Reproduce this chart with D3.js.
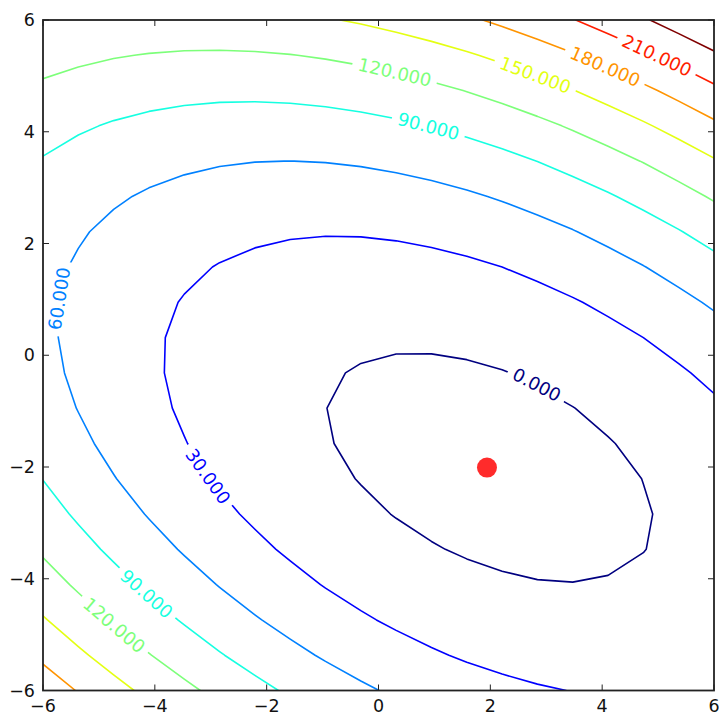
<!DOCTYPE html>
<html>
<head>
<meta charset="utf-8">
<script src="https://cdn.jsdelivr.net/npm/d3@7"></script>
<style>
  html, body { margin: 0; padding: 0; background: #fff; }
  svg { display: block; }
</style>
</head>
<body>
<svg id="chart" width="719" height="717"></svg>
<script>
// Quadratic form f(p) = 1/2 pᵀ A p − bᵀ p, sampled on a 20 × 20 grid over [-6, 6]²
const matrixA = [[3, 2], [2, 6]];
const vectorB = [2, -8];
const gridCount = 20;
const domainX = [-6, 6];
const domainY = [-6, 6];

// Contour levels and tick values
const levels = [0, 30, 60, 90, 120, 150, 180, 210, 240];
const xTicks = [-6, -4, -2, 0, 2, 4, 6];
const yTicks = [-6, -4, -2, 0, 2, 4, 6];

// Marked point (current estimate)
const markerX = [1.94];
const markerY = [-2.01];

// Inline contour labels: level and a point near where it sits
const labelLevels = [0, 30, 60, 90, 90, 120, 120, 150, 180, 210];
const labelNearX  = [2.83, -3.01, -5.82, 0.89, -4.12, 0.30, -4.75, 2.82, 4.09, 4.98];
const labelNearY  = [-0.53, -2.14, 1.03, 4.08, -4.24, 5.10, -4.86, 5.05, 5.25, 5.37];

// ---------------------------------------------------------------------------
const f = (x, y) =>
  0.5 * (matrixA[0][0] * x * x + (matrixA[0][1] + matrixA[1][0]) * x * y + matrixA[1][1] * y * y)
  - (vectorB[0] * x + vectorB[1] * y);
const grad = (x, y) => [
  matrixA[0][0] * x + 0.5 * (matrixA[0][1] + matrixA[1][0]) * y - vectorB[0],
  0.5 * (matrixA[0][1] + matrixA[1][0]) * x + matrixA[1][1] * y - vectorB[1]
];

// jet colormap (256-entry lookup, as matplotlib)
const jetSeg = {
  r: [[0, 0], [0.35, 0], [0.66, 1], [0.89, 1], [1, 0.5]],
  g: [[0, 0], [0.125, 0], [0.375, 1], [0.64, 1], [0.91, 0], [1, 0]],
  b: [[0, 0.5], [0.11, 1], [0.34, 1], [0.65, 0], [1, 0]]
};
function segInterp(seg, t) {
  for (let i = 1; i < seg.length; i++) {
    if (t <= seg[i][0]) {
      const [x0, y0] = seg[i - 1], [x1, y1] = seg[i];
      return y0 + (y1 - y0) * (t - x0) / (x1 - x0);
    }
  }
  return seg[seg.length - 1][1];
}
function jet(t) {
  const idx = Math.min(255, Math.max(0, Math.floor(t * 256)));
  const u = idx / 255;
  return d3.rgb(
    Math.round(255 * segInterp(jetSeg.r, u)),
    Math.round(255 * segInterp(jetSeg.g, u)),
    Math.round(255 * segInterp(jetSeg.b, u))
  ).formatHex();
}
const levelColor = d3.scaleLinear().domain(d3.extent(levels)).range([0, 1]);
const colorOf = lev => jet(levelColor(lev));

// Layout
const W = 719, H = 717;
const plot = { left: 43, right: 714, top: 20, bottom: 690.5 };
const x = d3.scaleLinear().domain(domainX).range([plot.left, plot.right]);
const y = d3.scaleLinear().domain(domainY).range([plot.bottom, plot.top]);

const svg = d3.select("#chart");
const defs = svg.append("defs");
defs.append("clipPath").attr("id", "plotClip")
  .append("rect")
  .attr("x", plot.left).attr("y", plot.top)
  .attr("width", plot.right - plot.left).attr("height", plot.bottom - plot.top);

// Sample grid
const xs = d3.range(gridCount).map(i => domainX[0] + i * (domainX[1] - domainX[0]) / (gridCount - 1));
const ys = d3.range(gridCount).map(j => domainY[0] + j * (domainY[1] - domainY[0]) / (gridCount - 1));
const values = [];
for (let j = 0; j < gridCount; j++) for (let i = 0; i < gridCount; i++) values.push(f(xs[i], ys[j]));

const stepX = (domainX[1] - domainX[0]) / (gridCount - 1);
const stepY = (domainY[1] - domainY[0]) / (gridCount - 1);
const gridToPx = d3.geoTransform({
  point(cx, cy) {
    this.stream.point(x(domainX[0] + (cx - 0.5) * stepX), y(domainY[0] + (cy - 0.5) * stepY));
  }
});
const path = d3.geoPath(gridToPx);
const contours = d3.contours().size([gridCount, gridCount]).thresholds(levels)(values);

// Label placement: snap to the level set, orient along the curve
const labelFont = 18;
const labels = labelLevels.map((lev, k) => {
  let px = labelNearX[k], py = labelNearY[k];
  for (let it = 0; it < 8; it++) {
    const g = grad(px, py), r = f(px, py) - lev, n2 = g[0] * g[0] + g[1] * g[1];
    px -= r * g[0] / n2; py -= r * g[1] / n2;
  }
  const g = grad(px, py);
  const kx = x(1) - x(0), ky = y(0) - y(1);
  let ang = Math.atan2(-g[0] * ky, -g[1] * kx) * 180 / Math.PI;
  if (ang > 90) ang -= 180;
  if (ang <= -90) ang += 180;
  return { lev, sx: x(px), sy: y(py), ang, text: lev.toFixed(3) };
});

// Text layer first (to measure), masks afterwards
const labelLayer = svg.append("g").attr("class", "contour-labels")
  .attr("font-family", "DejaVu Sans, sans-serif")
  .attr("font-size", labelFont);
const labelNodes = labelLayer.selectAll("text").data(labels).join("text")
  .attr("transform", d => `translate(${d.sx},${d.sy}) rotate(${d.ang})`)
  .attr("text-anchor", "middle")
  .attr("dominant-baseline", "central")
  .attr("fill", d => colorOf(d.lev))
  .text(d => d.text);
labelNodes.each(function (d) { d.w = this.getComputedTextLength(); });

levels.forEach((lev, i) => {
  const m = defs.append("mask").attr("id", "gap" + i)
    .attr("maskUnits", "userSpaceOnUse")
    .attr("x", 0).attr("y", 0).attr("width", W).attr("height", H);
  m.append("rect").attr("x", 0).attr("y", 0).attr("width", W).attr("height", H).attr("fill", "white");
  labels.filter(d => d.lev === lev).forEach(d => {
    m.append("rect")
      .attr("transform", `translate(${d.sx},${d.sy}) rotate(${d.ang})`)
      .attr("x", -d.w / 2 - 6).attr("y", -labelFont * 0.6)
      .attr("width", d.w + 12).attr("height", labelFont * 1.2)
      .attr("fill", "black");
  });
});

const lineLayer = svg.insert("g", ".contour-labels").attr("clip-path", "url(#plotClip)");
lineLayer.selectAll("g").data(contours).join("g")
  .attr("mask", (d, i) => `url(#gap${i})`)
  .append("path")
  .attr("d", path)
  .attr("fill", "none")
  .attr("stroke", d => colorOf(d.value))
  .attr("stroke-width", 1.6)
  .attr("stroke-linejoin", "round");

// Marked point
svg.append("g").selectAll("circle").data(markerX).join("circle")
  .attr("cx", (d, i) => x(markerX[i]))
  .attr("cy", (d, i) => y(markerY[i]))
  .attr("r", 10)
  .attr("fill", "#ff2b2b");

// Frame and inward ticks on all four sides
const tickLen = 6;
const axes = svg.append("g").attr("stroke", "#222").attr("stroke-width", 1);
xTicks.forEach(t => {
  axes.append("line").attr("x1", x(t)).attr("x2", x(t)).attr("y1", plot.bottom).attr("y2", plot.bottom - tickLen);
  axes.append("line").attr("x1", x(t)).attr("x2", x(t)).attr("y1", plot.top).attr("y2", plot.top + tickLen);
});
yTicks.forEach(t => {
  axes.append("line").attr("y1", y(t)).attr("y2", y(t)).attr("x1", plot.left).attr("x2", plot.left + tickLen);
  axes.append("line").attr("y1", y(t)).attr("y2", y(t)).attr("x1", plot.right).attr("x2", plot.right - tickLen);
});
svg.append("rect")
  .attr("x", plot.left).attr("y", plot.top)
  .attr("width", plot.right - plot.left).attr("height", plot.bottom - plot.top)
  .attr("fill", "none").attr("stroke", "#222").attr("stroke-width", 1.8);

const fmt = v => (v < 0 ? "\u2212" : "") + Math.abs(v);
const tickText = svg.append("g")
  .attr("font-family", "DejaVu Sans, sans-serif")
  .attr("font-size", 17.5)
  .attr("fill", "#111");
tickText.selectAll(".xt").data(xTicks).join("text").attr("class", "xt")
  .attr("x", d => x(d)).attr("y", plot.bottom + 15)
  .attr("text-anchor", "middle").attr("dominant-baseline", "central")
  .text(fmt);
tickText.selectAll(".yt").data(yTicks).join("text").attr("class", "yt")
  .attr("x", plot.left - 8).attr("y", d => y(d))
  .attr("text-anchor", "end").attr("dominant-baseline", "central")
  .text(fmt);
</script>
</body>
</html>
